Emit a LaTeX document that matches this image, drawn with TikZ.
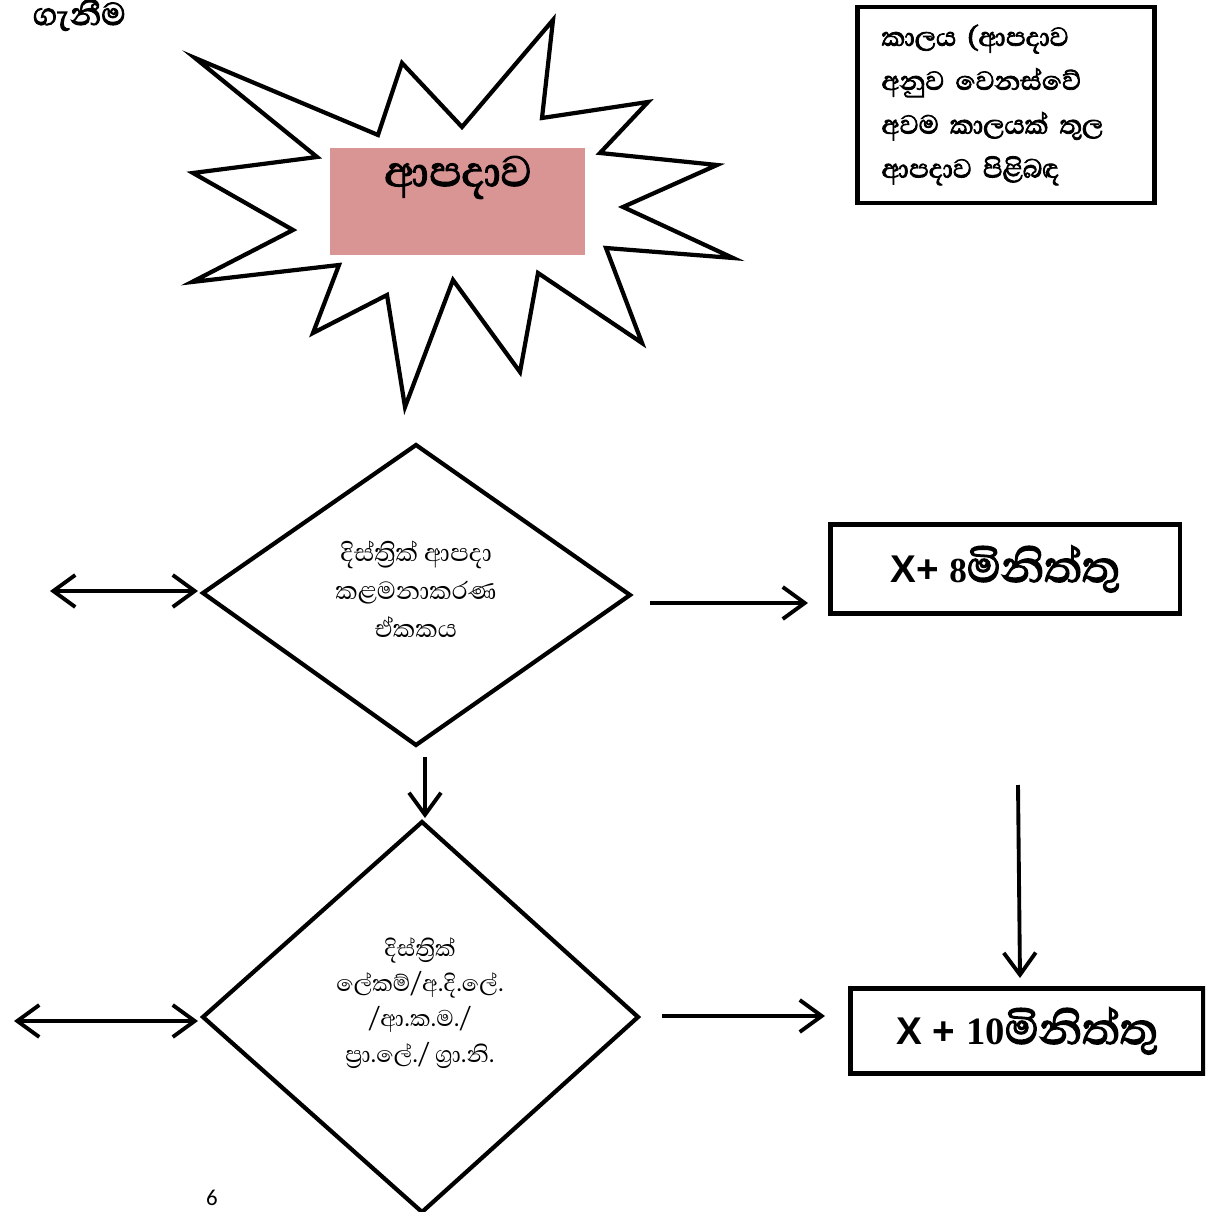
\documentclass[tikz,border=0pt]{standalone}
\usepackage{fontspec}
\usepackage{tikz}
\usetikzlibrary{arrows.meta}
\setmainfont{Liberation Serif}
\newfontfamily\sinhala[Script=Sinhala]{Abhaya Libre}
\newfontfamily\sinhalabf[Script=Sinhala, FakeBold=2.5]{Abhaya Libre}
\newfontfamily\arialfont{Liberation Sans}
\newfontfamily\calibfont{Carlito}
\definecolor{rosebox}{HTML}{D99594}

\begin{document}
\begin{tikzpicture}[x=0.02cm, y=-0.02cm,
  outline/.style={line width=2.4pt, line join=miter},
  frame/.style={draw, line width=2.8pt, inner sep=0pt},
  arr/.style={line width=2.2pt, -{Straight Barb[length=4.4mm, width=6.4mm]}},
  darr/.style={line width=2.2pt, {Straight Barb[length=4.4mm, width=6.4mm]}-{Straight Barb[length=4.4mm, width=6.4mm]}},
  sinbold/.style={font=\sinhalabf\fontsize{#1}{#1}\selectfont}]
\useasboundingbox (0,0) rectangle (1205,1212);
\clip (0,0) rectangle (1205,1212);

\node[sinbold=23, anchor=east, inner sep=0pt] (head) at (126,15) {ගැනීම};

\draw[outline] (195,58) -- (378,135) -- (402,63) -- (462,127) -- (553,20) -- (542,118) -- (648,102) -- (600,153) -- (717,165) -- (623,207) -- (733,258) -- (606,248) -- (642,343) -- (538,273) -- (520,372) -- (453,280) -- (405,407) -- (387,295) -- (313,333) -- (339,265) -- (192,282) -- (293,230) -- (193,173) -- (317,157) -- cycle;
\fill[rosebox] (330,148) rectangle (585,255);
\node[sinbold=31, anchor=north] (hazard) at (458,150) {ආපදාව};

\node[frame, minimum width=5.94cm, minimum height=3.92cm, text width=4.98cm, align=left, font=\sinhalabf\fontsize{19}{25}\selectfont] (note) at (1006,105) {කාලය (ආපදාව\\අනුව වෙනස්වේ\\අවම කාලයක් තුල\\ආපදාව පිළිබඳ};

\draw[outline] (203,593) -- (416,445) -- (630,595) -- (416,745) -- cycle;
\node[font=\sinhala\fontsize{18}{21.5}\selectfont, align=center] (unit) at (416,589) {දිස්ත්‍රික් ආපදා\\කළමනාකරණ\\ඒකකය};

\draw[outline] (203,1017) -- (422,822) -- (638,1017) -- (422,1212) -- cycle;
\node[font=\sinhala\fontsize{16.5}{20}\selectfont, align=center] (office) at (420,1003) {දිස්ත්‍රික්\\ලේකම්/අ.දි.ලේ.\\/ආ.ක.ම./\\ප්‍රා.ලේ./ ග්‍රා.නි.};

\node[frame, minimum width=7cm, minimum height=1.78cm] (eight) at (1005,569) {{\arialfont\bfseries\fontsize{22}{24}\selectfont X+ }{\bfseries\fontsize{20}{24}\selectfont 8}{\sinhalabf\fontsize{32}{34}\selectfont මිනිත්තු}};
\node[frame, minimum width=7.06cm, minimum height=1.7cm] (ten) at (1027,1031) {{\arialfont\bfseries\fontsize{22}{24}\selectfont X + }{\bfseries\fontsize{22}{24}\selectfont 10}{\sinhalabf\fontsize{32}{34}\selectfont මිනිත්තු}};

\coordinate (a1) at (50,591);
\coordinate (a2) at (198,591);
\coordinate (b1) at (650,603);
\coordinate (b2) at (808,603);
\coordinate (c1) at (425,757);
\coordinate (c2) at (425,818);
\coordinate (d1) at (14,1021);
\coordinate (d2) at (198,1021);
\coordinate (e1) at (662,1016);
\coordinate (e2) at (825,1016);
\coordinate (f1) at (1018,785);
\coordinate (f2) at (1020,978);
\draw[darr] (a1) -- (a2);
\draw[arr] (b1) -- (b2);
\draw[arr] (c1) -- (c2);
\draw[darr] (d1) -- (d2);
\draw[arr] (e1) -- (e2);
\draw[arr] (f1) -- (f2);

\node[font=\calibfont\fontsize{13}{14}\selectfont, anchor=south, inner sep=0pt] (page) at (212,1206) {6};
\end{tikzpicture}
\end{document}
